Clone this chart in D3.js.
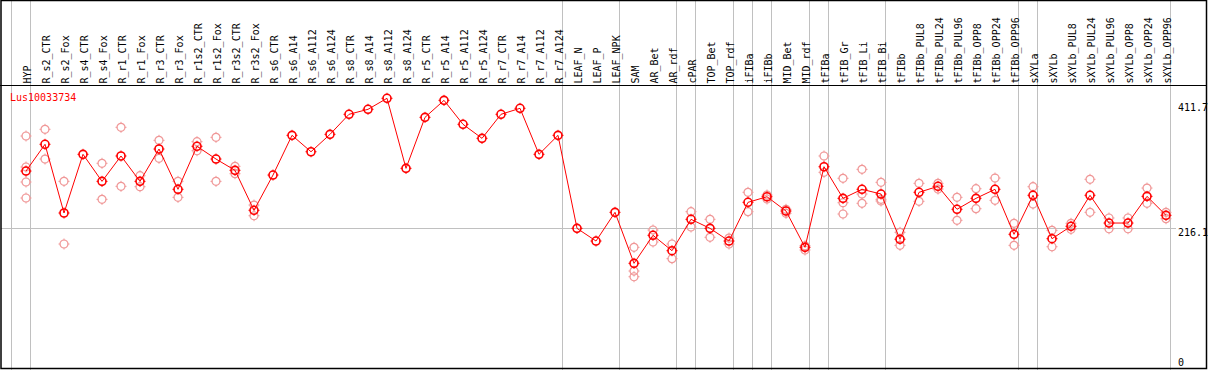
<!DOCTYPE html>
<html>
<head>
<meta charset="utf-8">
<script src="https://cdn.jsdelivr.net/npm/d3@7/dist/d3.min.js"></script>
<style>
	html, body { margin: 0; padding: 0; background: #fff; }
	svg { display: block; }
	text { font-family: "DejaVu Sans Mono", monospace; font-size: 10px; }
</style>
</head>
<body>
<svg id="chart" width="1209" height="370"></svg>
<script>
const geneName = "Lus10033734";

const categories = [
	"HYP", "R_s2_CTR", "R_s2_Fox", "R_s4_CTR", "R_s4_Fox", "R_r1_CTR", "R_r1_Fox",
	"R_r3_CTR", "R_r3_Fox", "R_r1s2_CTR", "R_r1s2_Fox", "R_r3s2_CTR", "R_r3s2_Fox",
	"R_s6_CTR", "R_s6_A14", "R_s6_A112", "R_s6_A124", "R_s8_CTR", "R_s8_A14",
	"R_s8_A112", "R_s8_A124", "R_r5_CTR", "R_r5_A14", "R_r5_A112", "R_r5_A124",
	"R_r7_CTR", "R_r7_A14", "R_r7_A112", "R_r7_A124", "LEAF_N", "LEAF_P", "LEAF_NPK",
	"SAM", "AR_Bet", "AR_rdf", "cPAR", "TOP_Bet", "TOP_rdf", "iFIBa", "iFIBb",
	"MID_Bet", "MID_rdf", "tFIBa", "tFIB_Gr", "tFIB_Li", "tFIB_Bi", "tFIBb",
	"tFIBb_PUL8", "tFIBb_PUL24", "tFIBb_PUL96", "tFIBb_OPP8", "tFIBb_OPP24", "tFIBb_OPP96",
	"sXYLa", "sXYLb", "sXYLb_PUL8", "sXYLb_PUL24", "sXYLb_PUL96", "sXYLb_OPP8",
	"sXYLb_OPP24", "sXYLb_OPP96"
];

// mean expression per sample
const means = [
	302.1, 342.4, 238.9, 327.3, 286.6, 324.8, 286.6,
	335.3, 274.6, 339.4, 320.2, 303.2, 243.0,
	296.1, 355.9, 331.2, 357.4, 387.6, 395.1,
	411.7, 306.2, 383.0, 408.6, 372.5, 351.4,
	387.6, 396.6, 327.3, 355.9, 215.8, 196.7, 239.9,
	163.1, 205.3, 182.1, 229.4, 215.8, 196.7, 255.0, 263.4,
	241.9, 187.2, 308.6, 261.0, 274.6, 267.5, 199.4,
	270.1, 279.1, 244.5, 261.0, 274.6, 206.8,
	265.6, 200.2, 218.9, 265.6, 223.8, 223.8,
	264.0, 235.4
];

// individual replicates per sample
const replicates = [
	[354.9, 308.2, 285.6, 261.5], [365.0, 320.2], [286.6, 192.2], [], [313.8, 259.5],
	[368.0, 279.1], [295.1, 278.5], [348.4, 321.3], [286.6, 262.5], [346.3, 332.7],
	[352.9, 286.6], [309.2, 298.1], [250.9, 234.8],
	[], [], [], [], [], [], [], [], [], [], [], [], [], [], [], [], [], [], [],
	[187.2, 151.5, 142.9], [213.3, 195.2], [192.2, 170.1], [240.9, 217.8],
	[229.4, 202.3], [201.2, 192.2], [270.1, 240.9], [266.0, 260.0],
	[244.5, 238.4], [189.6, 183.2], [324.8, 300.2], [291.2, 254.4, 237.4],
	[304.7, 267.5, 253.5], [285.1, 259.5, 257.0], [209.8, 190.2],
	[283.6, 256.5], [283.6, 275.0], [262.5, 227.9], [275.5, 245.4],
	[291.6, 258.0], [223.4, 190.2],
	[278.5, 252.4], [212.8, 188.1], [223.4, 214.3], [289.7, 239.9],
	[231.4, 215.2], [231.4, 215.2], [276.5, 253.5], [239.9, 230.3]
];

// first sample of each group (gray separators)
const groupStarts = [
	"HYP", "R_s2_CTR", "LEAF_N", "SAM", "cPAR", "TOP_Bet", "iFIBa", "iFIBb",
	"MID_Bet", "tFIBa", "tFIB_Gr", "tFIBb", "sXYLa", "sXYLb"
];

const yTicks = [411.7, 216.1, 0];
const refValue = 216.1;

const W = 1209, H = 370;
const headerY = 85;

const svg = d3.select("#chart");

const x = d3.scalePoint()
	.domain(categories)
	.range([26, 1166]);

const step = x.step();

const y = d3.scaleLinear()
	.domain([0, d3.max(means)])
	.range([371.6, 98.3]);

const lineGenerator = d3.line()
	.x((d, i) => x(categories[i]))
	.y(d => y(d));

// group separators
const sepX = groupStarts.map(c => x(c) - step + 4)
	.concat([x(categories[categories.length - 1]) + 4]);

svg.selectAll(null)
	.data(sepX)
	.enter()
	.append("line")
	.attr("x1", d => Math.round(d) + 0.5)
	.attr("x2", d => Math.round(d) + 0.5)
	.attr("y1", 0)
	.attr("y2", H)
	.attr("stroke", "#c0c0c0")
	.attr("stroke-width", 1);

// reference line
svg.append("line")
	.attr("x1", 1)
	.attr("x2", 1176)
	.attr("y1", Math.round(y(refValue)) + 0.5)
	.attr("y2", Math.round(y(refValue)) + 0.5)
	.attr("stroke", "#c0c0c0")
	.attr("stroke-width", 1);

// borders
svg.append("rect")
	.attr("x", 1)
	.attr("y", 0.5)
	.attr("width", 1205.5)
	.attr("height", 368)
	.attr("fill", "none")
	.attr("stroke", "#000")
	.attr("stroke-width", 1.5);

svg.append("line")
	.attr("x1", 0)
	.attr("x2", 1207)
	.attr("y1", headerY + 0.5)
	.attr("y2", headerY + 0.5)
	.attr("stroke", "#000");

// header labels
svg.selectAll(null)
	.data(categories)
	.enter()
	.append("text")
	.attr("transform", d => `translate(${x(d) + 4.5},83.5) rotate(-90)`)
	.attr("fill", "#000")
	.text(d => d);

function drawMarker(g, color, width) {
	g.append("circle")
		.attr("r", 4)
		.attr("fill", "none")
		.attr("stroke", color)
		.attr("stroke-width", width);
	[[0, -1], [0, 1], [-1, 0], [1, 0]].forEach(([dx, dy]) => {
		g.append("line")
			.attr("x1", dx * 3.5)
			.attr("y1", dy * 3.5)
			.attr("x2", dx * 5.5)
			.attr("y2", dy * 5.5)
			.attr("stroke", color)
			.attr("stroke-width", 1);
	});
}

// replicates
const repData = [];
replicates.forEach((arr, i) => arr.forEach(v => repData.push({ c: categories[i], v })));

svg.selectAll(null)
	.data(repData)
	.enter()
	.append("g")
	.attr("transform", d => `translate(${x(d.c)},${y(d.v)})`)
	.each(function () { drawMarker(d3.select(this), "#f09898", 1.2); });

// mean line
svg.append("path")
	.attr("d", lineGenerator(means))
	.attr("fill", "none")
	.attr("stroke", "#ff0000")
	.attr("stroke-width", 1);

svg.selectAll(null)
	.data(means)
	.enter()
	.append("g")
	.attr("transform", (d, i) => `translate(${x(categories[i])},${y(d)})`)
	.each(function () { drawMarker(d3.select(this), "#ff0000", 1.6); });

// gene name
svg.append("text")
	.attr("x", 10)
	.attr("y", 100.5)
	.attr("fill", "#ff0000")
	.text(geneName);

// value labels
svg.selectAll(null)
	.data(yTicks)
	.enter()
	.append("text")
	.attr("x", 1178)
	.attr("y", d => Math.max(111, Math.min(366, y(d) + 7.5)))
	.attr("fill", "#000")
	.text(d => d);
</script>
</body>
</html>
